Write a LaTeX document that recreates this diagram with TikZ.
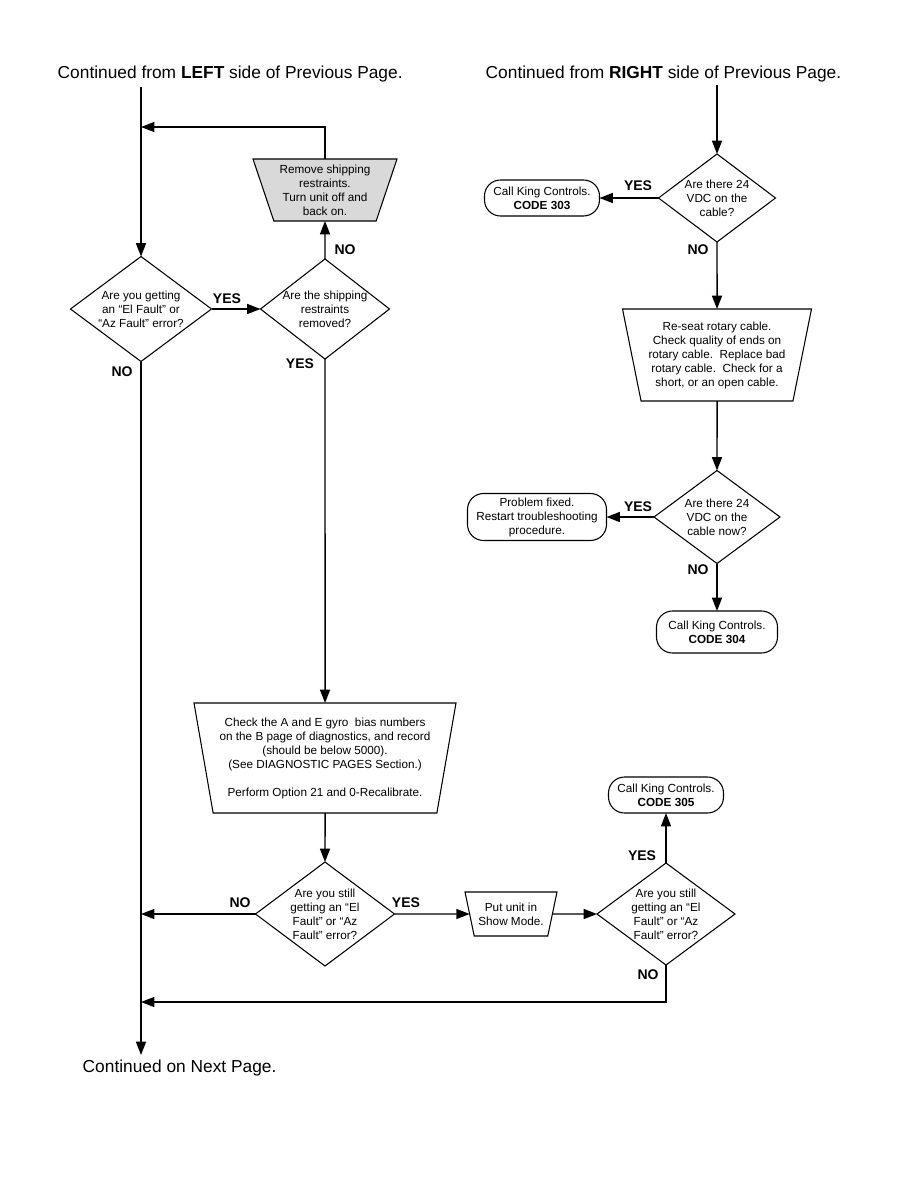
\documentclass[tikz,border=0pt]{standalone}
\usepackage{fontspec}
\setmainfont{Liberation Sans}
\usetikzlibrary{positioning,arrows.meta,shapes.geometric}
\definecolor{shade}{HTML}{D9D9D9}
\def\px{0.75pt}
\tikzset{
  box/.style={font=\fontsize{8.8}{10.5}\selectfont, align=center, outer sep=0pt},
  decision/.style={box, diamond, draw, line width=0.8pt, inner sep=-4pt},
  action/.style={box, trapezium, draw, line width=0.8pt, shape border rotate=180,
    trapezium stretches body=true, inner sep=0pt},
  terminal/.style={box, draw, line width=0.8pt, rounded corners=12pt, inner sep=0pt},
  lab/.style={font=\fontsize{10.5}{12}\selectfont\bfseries},
  caption/.style={font=\fontsize{13}{15}\selectfont, anchor=west},
  arr/.style={line width=1.1pt, -{Triangle[length=10pt,width=7.5pt]}},
}
\begin{document}
\begin{tikzpicture}[x=\px,y=-\px]
\useasboundingbox[fill=white] (0,0) rectangle (918,1188);
% headings
\node[caption] (fromL) at (53,74) {Continued from \textbf{LEFT} side of Previous Page.};
\node[caption] (fromR) at (481,74) {Continued from \textbf{RIGHT} side of Previous Page.};
\node[caption] (nextP) at (78,1068) {Continued on Next Page.};
\coordinate (topL) at (141,87);
\coordinate (loopL) at (141,127);
\coordinate (backL) at (141,914);
\coordinate (joinL) at (141,1002);
\coordinate (endL) at (141,1055);
\coordinate (topR) at (717,85);

% left branch
\node[decision, minimum width=141*\px, minimum height=105*\px] (getting) at (141,309)
  {Are you getting\\an “El Fault” or\\“Az Fault” error?};
\node[decision, minimum width=129*\px, minimum height=95*\px] (removed) at (325,309)
  {Are the shipping\\restraints\\removed?};
\node[action, fill=shade, trapezium left angle=67.6, trapezium right angle=67.6,
  minimum width=144*\px, minimum height=62*\px] (remove) at (325,190)
  {Remove shipping\\restraints.\\Turn unit off and\\back on.};
\node[action, trapezium left angle=76.7, trapezium right angle=76.7,
  minimum width=262*\px, minimum height=110*\px] (gyro) at (325,758)
  {Check the A and E gyro\ \ bias numbers\\on the B page of diagnostics, and record\\(should be below 5000).\\(See DIAGNOSTIC PAGES Section.)\\[10.5pt]Perform Option 21 and 0-Recalibrate.};
\node[decision, minimum width=139*\px, minimum height=104*\px] (still) at (325,914)
  {Are you still\\getting an “El\\Fault” or “Az\\Fault” error?};
\node[action, inner xsep=-3pt, trapezium left angle=67.8, trapezium right angle=67.8,
  minimum width=92*\px, minimum height=44*\px] (show) at (511,914)
  {Put unit in\\Show Mode.};
\node[decision, minimum width=138*\px, minimum height=102*\px] (stillB) at (666,914)
  {Are you still\\getting an “El\\Fault” or “Az\\Fault” error?};
\node[terminal, minimum width=115*\px, minimum height=36*\px] (call305) at (666,795)
  {Call King Controls.\\\textbf{CODE 305}};

% right branch
\node[decision, minimum width=117*\px, minimum height=88*\px] (volts) at (717,198)
  {Are there 24\\VDC on the\\cable?};
\node[terminal, minimum width=115*\px, minimum height=36*\px] (call303) at (542,198)
  {Call King Controls.\\\textbf{CODE 303}};
\node[action, trapezium left angle=74.5, trapezium right angle=74.5,
  minimum width=189*\px, minimum height=92*\px] (reseat) at (717,355)
  {Re-seat rotary cable.\\Check quality of ends on\\rotary cable.\ \ Replace bad\\rotary cable.\ \ Check for a\\short, or an open cable.};
\node[decision, minimum width=126*\px, minimum height=93*\px] (voltsNow) at (717,517)
  {Are there 24\\VDC on the\\cable now?};
\node[terminal, minimum width=139*\px, minimum height=47*\px] (fixed) at (537,517)
  {Problem fixed.\\Restart troubleshooting\\procedure.};
\node[terminal, minimum width=121*\px, minimum height=42*\px] (call304) at (717,632)
  {Call King Controls.\\\textbf{CODE 304}};

% answers
\node[lab] (yesA) at (227,299) {YES};
\node[lab] (noA) at (122,372) {NO};
\node[lab] (noB) at (345,250) {NO};
\node[lab] (yesB) at (300,364) {YES};
\node[lab] (noC) at (240,903) {NO};
\node[lab] (yesC) at (406,903) {YES};
\node[lab] (yesD) at (642,856) {YES};
\node[lab] (noD) at (648,975) {NO};
\node[lab] (yesE) at (638,186) {YES};
\node[lab] (noE) at (698,250) {NO};
\node[lab] (yesF) at (638,507) {YES};
\node[lab] (noF) at (698,570) {NO};

% connectors
\draw[arr] (topL) -- (getting.north);
\draw[arr] (remove.north) |- (loopL);
\draw[arr] (getting.east) -- (removed.west);
\draw[arr] (removed.north) -- (remove.south);
\draw[arr] (removed.south) -- (gyro.north);
\draw[arr] (getting.south) -- (endL);
\draw[arr] (gyro.south) -- (still.north);
\draw[arr] (still.west) -- (backL);
\draw[arr] (still.east) -- (show.west);
\draw[arr] (show.east) -- (stillB.west);
\draw[arr] (stillB.north) -- (call305.south);
\draw[arr] (stillB.south) |- (joinL);
\draw[arr] (topR) -- (volts.north);
\draw[arr] (volts.west) -- (call303.east);
\draw[arr] (volts.south) -- (reseat.north);
\draw[arr] (reseat.south) -- (voltsNow.north);
\draw[arr] (voltsNow.west) -- (fixed.east);
\draw[arr] (voltsNow.south) -- (call304.north);
\end{tikzpicture}
\end{document}
